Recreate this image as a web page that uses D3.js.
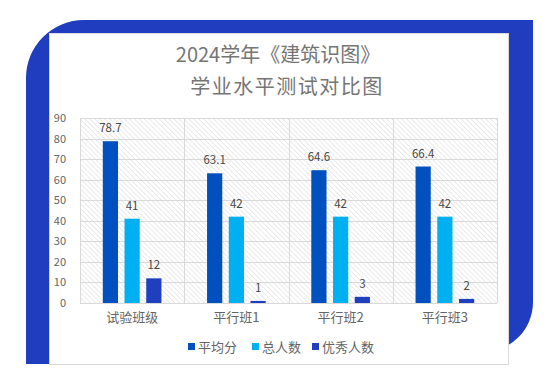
<!DOCTYPE html>
<html>
<head>
<meta charset="utf-8">
<script src="https://cdn.jsdelivr.net/npm/d3@7"></script>
<style>
  body { margin: 0; background: #fff; }
  text { font-family: "Noto Sans CJK SC", "Noto Sans", sans-serif; }
</style>
</head>
<body>
<div id="chart"></div>
<script>
// Chart data
const classes = ["试验班级", "平行班1", "平行班2", "平行班3"];
const seriesNames = ["平均分", "总人数", "优秀人数"];
const avgScore = [78.7, 63.1, 64.6, 66.4];
const totalCount = [41, 42, 42, 42];
const excellentCount = [12, 1, 3, 2];
const yTicks = [0, 10, 20, 30, 40, 50, 60, 70, 80, 90];
const titleLines = ["2024学年《建筑识图》", "学业水平测试对比图"];

const COLORS = ["#0050BF", "#00B0F0", "#203FBE"];
const FRAME_BLUE = "#1F3DBE";
const TEXT_GRAY = "#646464";
const GRID = "#d9d9d9";

const WIDTH = 550;
const HEIGHT = 375;
const PLOT = { left: 80, right: 497, top: 118, bottom: 303 };

const values = [avgScore, totalCount, excellentCount];

const svg = d3.select("#chart").append("svg")
    .attr("width", WIDTH)
    .attr("height", HEIGHT);

// Hatched background for the plot area ("\" stripes)
const defs = svg.append("defs");
const pattern = defs.append("pattern")
    .attr("id", "hatch")
    .attr("patternUnits", "userSpaceOnUse")
    .attr("width", 3.5)
    .attr("height", 3.5)
    .attr("patternTransform", "rotate(-45)");
pattern.append("rect").attr("width", 3.5).attr("height", 3.5).attr("fill", "#ffffff");
pattern.append("line")
    .attr("x1", 0).attr("y1", 0).attr("x2", 0).attr("y2", 3.5)
    .attr("stroke", "#d6d6d6").attr("stroke-width", 1);

// Blue frame behind the white card: rounded top-left and bottom-right corners
const fx0 = 26, fy0 = 20, fx1 = 533, fy1 = 364, rTL = 58, rBR = 50;
svg.append("path")
    .attr("d", `M${fx0},${fy0 + rTL} A${rTL},${rTL} 0 0 1 ${fx0 + rTL},${fy0}
        L${fx1},${fy0} L${fx1},${fy1 - 12 - rBR}
        A${rBR},${rBR} 0 0 1 ${fx1 - rBR},${fy1 - 12} L${fx0},${fy1 - 12} L${fx0},${fy1} Z`)
    .attr("fill", FRAME_BLUE);
svg.append("rect")
    .attr("x", fx0).attr("y", fy0 + rTL).attr("width", 24).attr("height", fy1 - fy0 - rTL)
    .attr("fill", FRAME_BLUE);

// White card
svg.append("rect")
    .attr("x", 49.5).attr("y", 33.5)
    .attr("width", 459).attr("height", 331)
    .attr("fill", "#fff")
    .attr("stroke", GRID);

// Title
svg.append("g")
    .selectAll("text")
    .data(titleLines)
    .join("text")
    .attr("x", (_d, i) => i === 0 ? 278 : 287)
    .attr("y", (_d, i) => 62 + i * 32)
    .attr("text-anchor", "middle")
    .attr("fill", "#757575")
    .style("font-size", "20px")
    .style("letter-spacing", (_d, i) => i === 0 ? "0px" : "1.5px")
    .text(d => d);

const xScale = d3.scaleBand()
    .domain(classes)
    .range([PLOT.left, PLOT.right]);

const innerScale = d3.scaleBand()
    .domain(seriesNames)
    .range([0, xScale.bandwidth()])
    .paddingInner(0.3)
    .paddingOuter(1.05);

const yScale = d3.scaleLinear()
    .domain([0, 90])
    .range([PLOT.bottom, PLOT.top]);

svg.append("rect")
    .attr("x", PLOT.left).attr("y", PLOT.top)
    .attr("width", PLOT.right - PLOT.left).attr("height", PLOT.bottom - PLOT.top)
    .attr("fill", "url(#hatch)");

// Grid lines
svg.append("g")
    .selectAll("line")
    .data(yTicks)
    .join("line")
    .attr("x1", PLOT.left).attr("x2", PLOT.right)
    .attr("y1", d => Math.round(yScale(d)) + 0.5)
    .attr("y2", d => Math.round(yScale(d)) + 0.5)
    .attr("stroke", GRID);

svg.append("g")
    .selectAll("line")
    .data([...classes.map(c => xScale(c)), PLOT.right])
    .join("line")
    .attr("x1", d => Math.round(d) + 0.5).attr("x2", d => Math.round(d) + 0.5)
    .attr("y1", PLOT.top).attr("y2", PLOT.bottom)
    .attr("stroke", GRID);

// Y axis labels (no axis line)
const yAxis = svg.append("g")
    .attr("transform", `translate(${PLOT.left},0)`)
    .call(d3.axisLeft(yScale).tickValues(yTicks).tickSize(0).tickPadding(14));
yAxis.select(".domain").remove();
yAxis.selectAll("text")
    .attr("fill", TEXT_GRAY)
    .style("font-size", "11px")
    .style("font-family", "'Noto Sans CJK SC', sans-serif");

// X axis labels
const xAxis = svg.append("g")
    .attr("transform", `translate(0,${PLOT.bottom})`)
    .call(d3.axisBottom(xScale).tickSize(0).tickPadding(10));
xAxis.select(".domain").remove();
xAxis.selectAll("text")
    .attr("fill", TEXT_GRAY)
    .style("font-size", "13px")
    .style("font-family", "'Noto Sans CJK SC', sans-serif");

// Bars and value labels
const rows = seriesNames.flatMap((name, si) =>
    classes.map((cls, ci) => ({ name, si, cls, value: values[si][ci] })));

svg.append("g")
    .selectAll("rect")
    .data(rows)
    .join("rect")
    .attr("x", d => xScale(d.cls) + innerScale(d.name))
    .attr("y", d => yScale(d.value))
    .attr("width", innerScale.bandwidth())
    .attr("height", d => yScale(0) - yScale(d.value))
    .attr("fill", d => COLORS[d.si]);

svg.append("g")
    .selectAll("text")
    .data(rows)
    .join("text")
    .attr("x", d => xScale(d.cls) + innerScale(d.name) + innerScale.bandwidth() / 2)
    .attr("y", d => yScale(d.value) - 9)
    .attr("text-anchor", "middle")
    .attr("fill", "#474747")
    .style("font-size", "11.5px")
    .text(d => d.value);

// Legend
const legendX = [188, 252, 312];
const legend = svg.append("g")
    .selectAll("g")
    .data(seriesNames)
    .join("g")
    .attr("transform", (_d, i) => `translate(${legendX[i]},347)`);
legend.append("rect")
    .attr("x", 0).attr("y", -4)
    .attr("width", 7).attr("height", 7)
    .attr("fill", (_d, i) => COLORS[i]);
legend.append("text")
    .attr("x", 10).attr("y", 4.5)
    .attr("fill", TEXT_GRAY)
    .style("font-size", "13px")
    .text(d => d);
</script>
</body>
</html>
